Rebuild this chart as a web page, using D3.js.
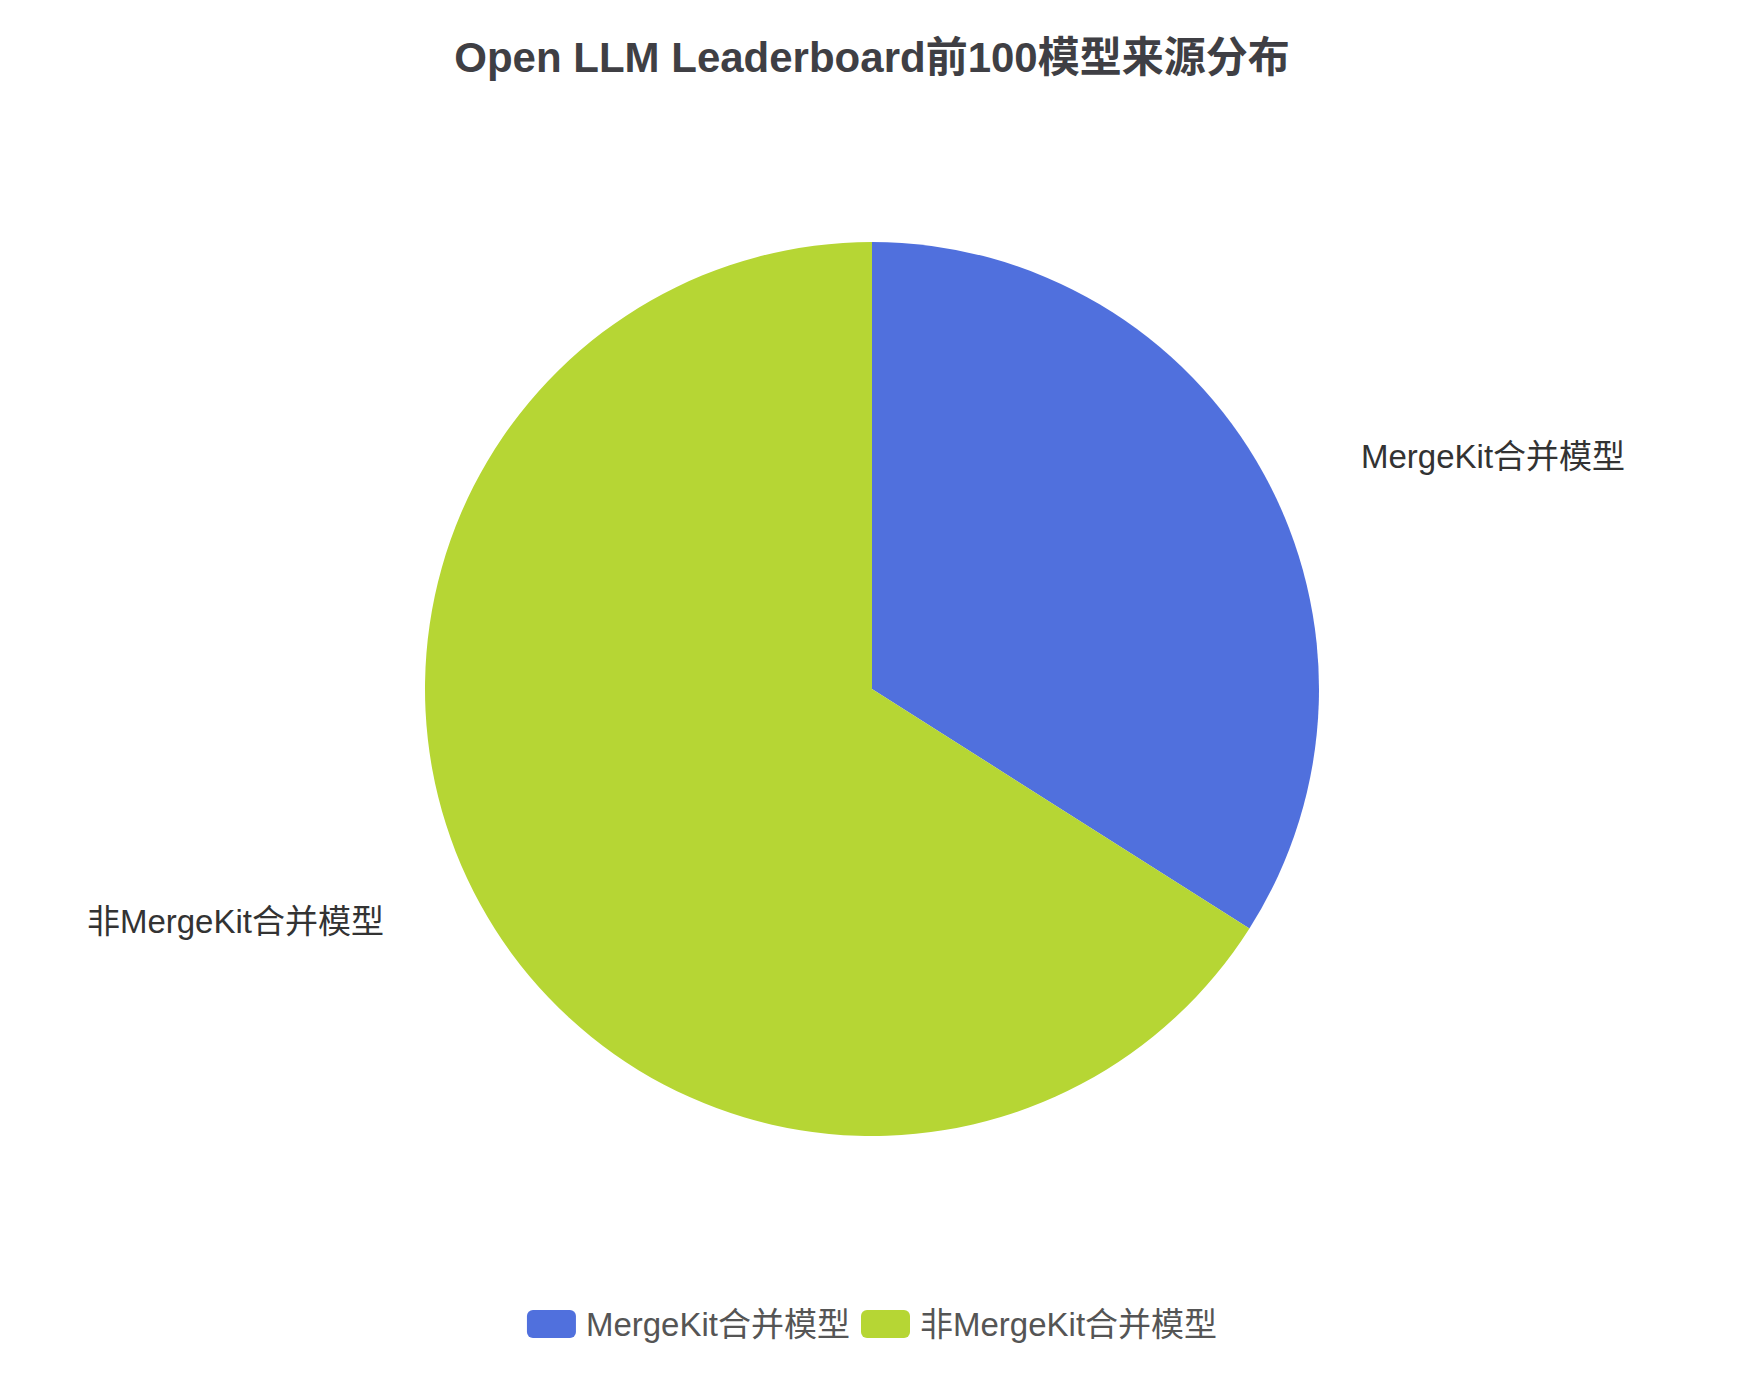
<!DOCTYPE html>
<html>
<head>
<meta charset="utf-8">
<script src="https://cdn.jsdelivr.net/npm/d3@7"></script>
<style>
  html, body { margin: 0; padding: 0; background: #fff; }
  text { font-family: "Liberation Sans", "Noto Sans CJK SC", sans-serif; }
</style>
</head>
<body>
<svg id="chart" width="1744" height="1378"></svg>
<script>
const titleText = "Open LLM Leaderboard前100模型来源分布";
const categories = ["MergeKit合并模型", "非MergeKit合并模型"];
const values = [34, 66];
const colors = ["#5070dd", "#b6d634"];

const svg = d3.select("#chart");
const width = +svg.attr("width");

const cx = 872, cy = 689, radius = 447;

svg.append("text")
  .attr("x", width / 2)
  .attr("y", 57)
  .attr("text-anchor", "middle")
  .attr("dominant-baseline", "central")
  .attr("font-size", 42)
  .attr("font-weight", "bold")
  .attr("fill", "#3f3f44")
  .text(titleText);

const data = categories.map((c, i) => ({ name: c, value: values[i] }));

const pie = d3.pie()
  .value(d => d.value)
  .sort(null);

const arc = d3.arc().innerRadius(0).outerRadius(radius);
const labelArc = d3.arc().innerRadius(radius + 35).outerRadius(radius + 35);

const color = d3.scaleOrdinal()
  .domain(categories)
  .range(colors);

const g = svg.append("g").attr("transform", `translate(${cx},${cy})`);

const arcs = pie(data);

g.selectAll(".slice")
  .data(arcs)
  .enter()
  .append("path")
  .attr("class", "slice")
  .attr("d", arc)
  .attr("fill", d => color(d.data.name));

// Outside labels, no label lines
g.selectAll(".label")
  .data(arcs)
  .enter()
  .append("text")
  .attr("class", "label")
  .attr("x", d => {
    const mid = (d.startAngle + d.endAngle) / 2;
    return mid < Math.PI ? radius + 42 : -(radius + 41);
  })
  .attr("y", d => labelArc.centroid(d)[1])
  .attr("text-anchor", d => (d.startAngle + d.endAngle) / 2 < Math.PI ? "start" : "end")
  .attr("dominant-baseline", "central")
  .attr("font-size", 33)
  .attr("fill", "#333")
  .text(d => d.data.name);

// Legend
const legend = svg.append("g");
const itemW = 49, itemH = 28, gap = 10, itemGap = 11;
const fontSize = 33;

const items = legend.selectAll(".item")
  .data(categories)
  .enter()
  .append("g")
  .attr("class", "item");

items.append("rect")
  .attr("width", itemW)
  .attr("height", itemH)
  .attr("rx", 6)
  .attr("ry", 6)
  .attr("y", -itemH / 2)
  .attr("fill", d => color(d));

items.append("text")
  .attr("x", itemW + gap)
  .attr("dominant-baseline", "central")
  .attr("font-size", fontSize)
  .attr("fill", "#555")
  .text(d => d);

let offset = 0;
const widths = [];
items.each(function() {
  widths.push(this.getBBox().width);
});
const total = d3.sum(widths) + itemGap * (widths.length - 1);
const x0 = width / 2 - total / 2;
items.attr("transform", (d, i) => {
  const x = x0 + offset;
  offset += widths[i] + itemGap;
  return `translate(${x},1324)`;
});
</script>
</body>
</html>
